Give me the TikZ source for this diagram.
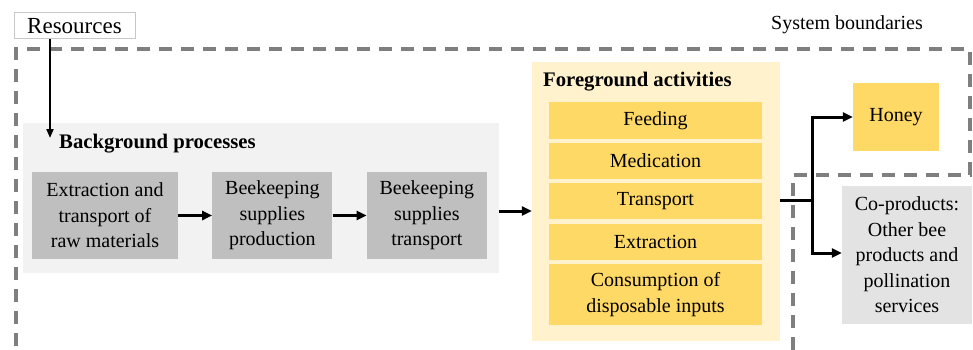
\documentclass[tikz,border=0pt]{standalone}
\usepackage{fontspec}
\setmainfont{Liberation Serif}
\usetikzlibrary{positioning}
\usetikzlibrary{arrows.meta}

\definecolor{panelgray}{HTML}{F2F2F2}
\definecolor{boxgray}{HTML}{BFBFBF}
\definecolor{panelyellow}{HTML}{FFF2CC}
\definecolor{boxyellow}{HTML}{FFD966}
\definecolor{coprodgray}{HTML}{E3E3E3}
\definecolor{boundgray}{HTML}{7F7F7F}
\definecolor{resline}{HTML}{C8C8C8}

\begin{document}
\begin{tikzpicture}[x=1pt,y=-1pt,>={Triangle[length=10pt,width=9pt]},
  txt/.style={font=\fontsize{20}{25.5}\selectfont},
  bg box/.style={rectangle,fill=boxgray,align=center,minimum height=87pt,inner sep=0pt,txt},
  fg box/.style={rectangle,fill=boxyellow,align=center,minimum width=213pt,minimum height=36pt,inner sep=0pt,txt},
  title/.style={anchor=west,inner sep=0pt,font=\fontsize{20.7}{24}\selectfont\bfseries},
  flow/.style={->,line width=3pt},
  boundary/.style={draw=boundgray,line width=4pt,dash pattern=on 13pt off 9pt}]
\useasboundingbox (0,0) rectangle (973,350);

% system boundary
\draw[boundary] (793,350) -- (793,175) -- (970,175) -- (970,49) -- (16,49) -- (16,350);
\node[anchor=west,inner sep=0pt,txt] (sysb) at (771,25) {System boundaries};

\node[draw=resline,line width=1pt,fill=white,minimum width=121pt,minimum height=26pt,inner sep=0pt,font=\fontsize{23}{26}\selectfont] (res) at (74.5,26) {Resources};

% background processes
\node[fill=panelgray,minimum width=476pt,minimum height=150pt,inner sep=0pt] (bgpanel) at (261,198) {};
\node[title] (bgtitle) at (59,144) {Background processes};
\node[bg box,minimum width=146pt] (raw) at (105,215.5) {Extraction and\\transport of\\raw materials};
\node[bg box,minimum width=120pt,right=34pt of raw] (prod) {Beekeeping\\supplies\\production};
\node[bg box,minimum width=120pt,right=34pt of prod] (supp) {Beekeeping\\supplies\\transport};

% foreground activities
\node[fill=panelyellow,minimum width=248pt,minimum height=279pt,inner sep=0pt] (fgpanel) at (656,201.5) {};
\node[title] (fgtitle) at (543,82) {Foreground activities};
\node[fg box] (feed) at (655.5,120.5) {Feeding};
\node[fg box,below=4pt of feed] (med) {Medication};
\node[fg box,below=4pt of med] (trans) {Transport};
\node[fg box,below=4pt of trans] (extr) {Extraction};
\node[fg box,below=4pt of extr,minimum height=61pt] (cons) {Consumption of\\disposable inputs};

% products
\node[fill=boxyellow,minimum width=86pt,minimum height=68pt,inner sep=0pt,txt] (honey) at (896,117) {Honey};
\node[fill=coprodgray,minimum width=130pt,minimum height=138pt,inner sep=0pt,align=center,txt] (coprod) at (907,255) {Co-products:\\Other bee\\products and\\pollination\\services};

\coordinate (bgin) at (50,138);
\coordinate (split) at (812,200);

\draw[->,line width=2pt,>={Triangle[length=9pt,width=7pt]}] (res.south -| bgin) -- (bgin);
\draw[flow] (raw) -- (prod);
\draw[flow] (prod) -- (supp);
\draw[flow] ([yshift=-13pt]bgpanel.east) -- ([yshift=-9.5pt]fgpanel.west);
\draw[line width=3pt] (fgpanel.east |- split) -- (split);
\draw[flow] (split) |- (honey.west);
\draw[flow] (split) |- ([yshift=2pt]coprod.west);
\end{tikzpicture}
\end{document}
